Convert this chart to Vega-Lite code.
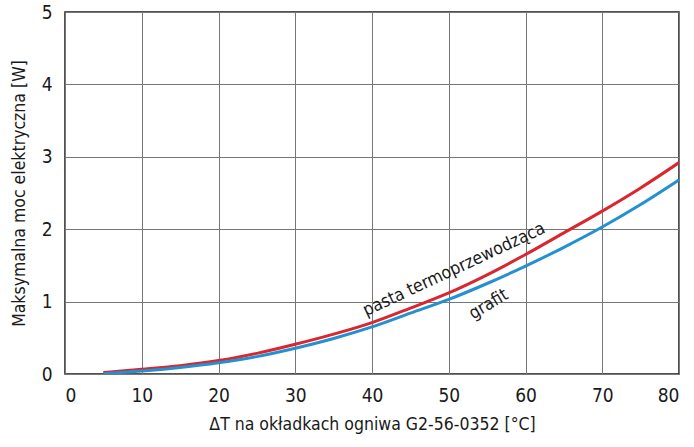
{
  "$schema": "https://vega.github.io/schema/vega-lite/v6.json",
  "width": 614,
  "height": 362,
  "autosize": {"type": "none"},
  "padding": {"left": 65, "top": 12, "right": 15, "bottom": 73},
  "background": "white",
  "config": {
    "font": "'DejaVu Sans Condensed', 'Liberation Sans', sans-serif",
    "view": {"stroke": "#1a1a1a", "strokeWidth": 1.5},
    "axis": {
      "domain": false,
      "ticks": false,
      "grid": true,
      "gridColor": "#777777",
      "gridWidth": 1,
      "gridOpacity": 1,
      "labelFont": "'DejaVu Sans Condensed', 'Liberation Sans', sans-serif",
      "labelFontSize": 19,
      "labelColor": "#1a1a1a",
      "titleFont": "'DejaVu Sans Condensed', 'Liberation Sans', sans-serif",
      "titleFontSize": 17.5,
      "titleFontWeight": "normal",
      "titleColor": "#1a1a1a"
    }
  },
  "datasets": {
    "curves": [
      {"dT": 5, "P": 0.02, "material": "pasta termoprzewodząca"},
      {"dT": 10, "P": 0.065, "material": "pasta termoprzewodząca"},
      {"dT": 15, "P": 0.115, "material": "pasta termoprzewodząca"},
      {"dT": 20, "P": 0.185, "material": "pasta termoprzewodząca"},
      {"dT": 25, "P": 0.285, "material": "pasta termoprzewodząca"},
      {"dT": 30, "P": 0.41, "material": "pasta termoprzewodząca"},
      {"dT": 35, "P": 0.55, "material": "pasta termoprzewodząca"},
      {"dT": 40, "P": 0.71, "material": "pasta termoprzewodząca"},
      {"dT": 45, "P": 0.91, "material": "pasta termoprzewodząca"},
      {"dT": 50, "P": 1.12, "material": "pasta termoprzewodząca"},
      {"dT": 55, "P": 1.37, "material": "pasta termoprzewodząca"},
      {"dT": 60, "P": 1.65, "material": "pasta termoprzewodząca"},
      {"dT": 65, "P": 1.95, "material": "pasta termoprzewodząca"},
      {"dT": 70, "P": 2.25, "material": "pasta termoprzewodząca"},
      {"dT": 75, "P": 2.57, "material": "pasta termoprzewodząca"},
      {"dT": 80, "P": 2.92, "material": "pasta termoprzewodząca"},
      {"dT": 5, "P": 0.005, "material": "grafit"},
      {"dT": 10, "P": 0.04, "material": "grafit"},
      {"dT": 15, "P": 0.09, "material": "grafit"},
      {"dT": 20, "P": 0.155, "material": "grafit"},
      {"dT": 25, "P": 0.24, "material": "grafit"},
      {"dT": 30, "P": 0.355, "material": "grafit"},
      {"dT": 35, "P": 0.49, "material": "grafit"},
      {"dT": 40, "P": 0.65, "material": "grafit"},
      {"dT": 45, "P": 0.84, "material": "grafit"},
      {"dT": 50, "P": 1.03, "material": "grafit"},
      {"dT": 55, "P": 1.25, "material": "grafit"},
      {"dT": 60, "P": 1.49, "material": "grafit"},
      {"dT": 65, "P": 1.75, "material": "grafit"},
      {"dT": 70, "P": 2.03, "material": "grafit"},
      {"dT": 75, "P": 2.34, "material": "grafit"},
      {"dT": 80, "P": 2.68, "material": "grafit"}
    ]
  },
  "layer": [
    {
      "data": {"name": "curves"},
      "mark": {"type": "line", "strokeWidth": 3, "interpolate": "monotone", "clip": true},
      "encoding": {
        "x": {
          "field": "dT",
          "type": "quantitative",
          "scale": {"domain": [0, 80], "nice": false},
          "axis": {
            "title": "ΔT na okładkach ogniwa G2-56-0352 [°C]",
            "values": [0, 5, 10, 15, 20, 25, 30, 35, 40, 45, 50, 55, 60, 65, 70, 75, 80],
            "labelExpr": "datum.value % 10 === 0 ? format(datum.value, 'd') : ''",
            "labelPadding": 12,
            "titlePadding": 10
          }
        },
        "y": {
          "field": "P",
          "type": "quantitative",
          "scale": {"domain": [0, 5], "nice": false},
          "axis": {
            "title": "Maksymalna moc elektryczna [W]",
            "values": [0, 0.5, 1, 1.5, 2, 2.5, 3, 3.5, 4, 4.5, 5],
            "labelExpr": "datum.value % 1 === 0 ? format(datum.value, 'd') : ''",
            "labelPadding": 13,
            "titleX": -46,
            "titleY": 181,
            "titleAngle": 270,
            "titleAlign": "center",
            "titleBaseline": "middle"
          }
        },
        "color": {
          "field": "material",
          "type": "nominal",
          "scale": {"domain": ["pasta termoprzewodząca", "grafit"], "range": ["#d9262f", "#2490cf"]},
          "legend": null
        }
      }
    },
    {
      "data": {"values": [{"dT": 50.7, "P": 1.44, "label": "pasta termoprzewodząca"}]},
      "mark": {"type": "text", "angle": 335, "fontSize": 17.5, "color": "#1a1a1a", "align": "center", "baseline": "middle"},
      "encoding": {
        "x": {"field": "dT", "type": "quantitative"},
        "y": {"field": "P", "type": "quantitative"},
        "text": {"field": "label"}
      }
    },
    {
      "data": {"values": [{"dT": 55.2, "P": 0.96, "label": "grafit"}]},
      "mark": {"type": "text", "angle": 329, "fontSize": 17.5, "color": "#1a1a1a", "align": "center", "baseline": "middle"},
      "encoding": {
        "x": {"field": "dT", "type": "quantitative"},
        "y": {"field": "P", "type": "quantitative"},
        "text": {"field": "label"}
      }
    }
  ]
}
